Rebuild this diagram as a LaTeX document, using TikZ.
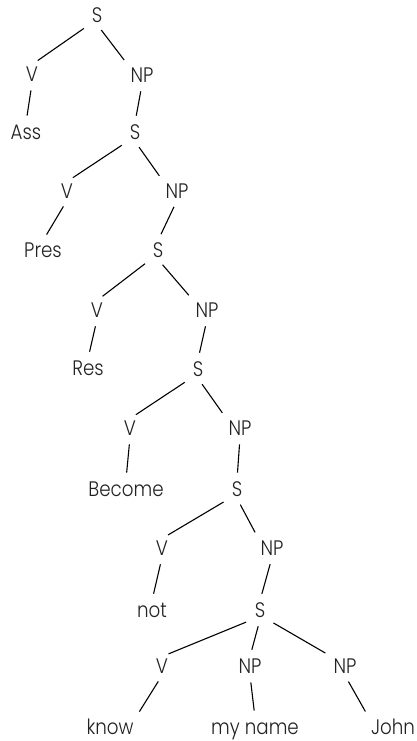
\documentclass[tikz,border=0pt]{standalone}
\usepackage{fontspec}
\setmainfont{Poppins}[UprightFont={* Light}, FakeStretch=0.87]
\definecolor{ink}{HTML}{222222}
\begin{document}
\begin{tikzpicture}[x=1pt,y=-1pt,
  lbl/.style={inner sep=2pt, text height=14.5pt, text depth=0pt, text=ink,
              font=\fontsize{21}{23}\selectfont},
  branch/.style={draw=black, line width=1.1pt, shorten <=7pt, shorten >=7pt}]
\useasboundingbox (0,0) rectangle (416,741);
\fill[white] (0,0) rectangle (416,741);

% nodes, level by level
\node[lbl] (s1)  at (97,15)   {S};
\node[lbl] (v1)  at (32,74)   {V};
\node[lbl] (np1) at (142,75)  {NP};
\node[lbl] (w1)  at (26,132)  {Ass};
\node[lbl] (s2)  at (135,132) {S};
\node[lbl] (v2)  at (67,191)  {V};
\node[lbl] (np2) at (177,191) {NP};
\node[lbl] (w2)  at (43,250)  {Pres};
\node[lbl] (s3)  at (158,250) {S};
\node[lbl] (v3)  at (97,310)  {V};
\node[lbl] (np3) at (207,310) {NP};
\node[lbl] (w3)  at (88,368)  {Res};
\node[lbl] (s4)  at (198,369) {S};
\node[lbl] (v4)  at (130,428) {V};
\node[lbl] (np4) at (240,428) {NP};
\node[lbl] (w4)  at (126,489) {Become};
\node[lbl] (s5)  at (237,489) {S};
\node[lbl] (v5)  at (162,548) {V};
\node[lbl] (np5) at (272,548) {NP};
\node[lbl] (w5)  at (152,610) {not};
\node[lbl] (s6)  at (260,610) {S};
\node[lbl] (v6)  at (162,666) {V};
\node[lbl] (np6) at (250,666) {NP};
\node[lbl] (np7) at (345,666) {NP};
\node[lbl] (w6)  at (110,727) {know};
\node[lbl] (w7)  at (255,727) {my name};
\node[lbl] (w8)  at (393,727) {John};

% branches
\foreach \s/\v/\n/\w/\t in {s1/v1/np1/w1/s2, s2/v2/np2/w2/s3, s3/v3/np3/w3/s4,
                            s4/v4/np4/w4/s5, s5/v5/np5/w5/s6} {
  \draw[branch] (\s.south west) -- (\v.north);
  \draw[branch] (\s.south) -- (\n.north west);
  \draw[branch] (\v.south) -- (\w.north);
  \draw[branch] (\n.south) -- (\t.north);
}
\draw[branch] (s6.south west) -- (v6.north);
\draw[branch] (s6.south) -- (np6.north);
\draw[branch] (s6.south east) -- (np7.north west);
\draw[branch] (v6.south) -- (w6.north east);
\draw[branch] (np6.south) -- (w7.north);
\draw[branch] (np7.south) -- (w8.north west);
\end{tikzpicture}
\end{document}
